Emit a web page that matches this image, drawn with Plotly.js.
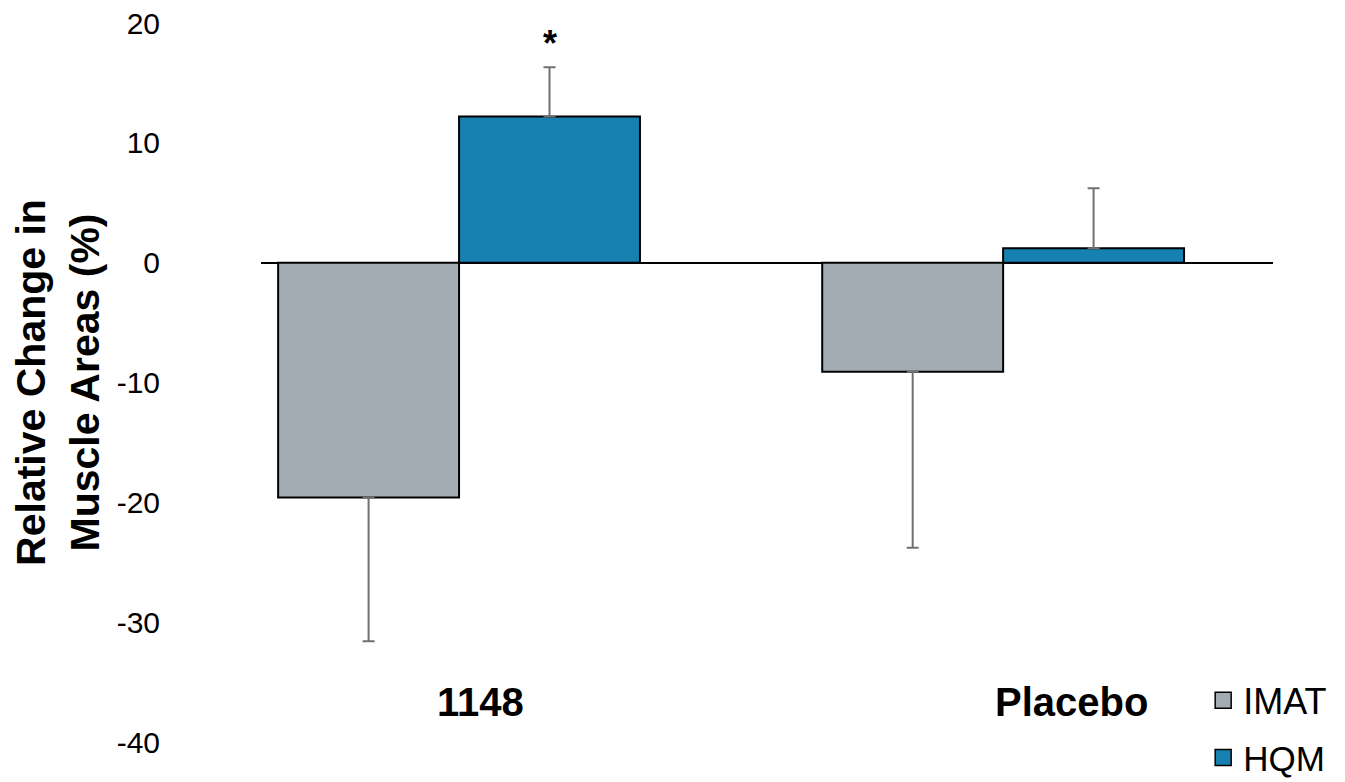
<!DOCTYPE html>
<html><head><meta charset="utf-8">
<script src="https://cdn.plot.ly/plotly-3.0.1.min.js"></script>
<style>html,body{margin:0;padding:0;background:#fff}</style>
</head><body>
<div id="chart" style="width:1345px;height:782px"></div>
<script>
const categories = ['1148', 'Placebo'];
const seriesNames = ['IMAT', 'HQM'];
const imat = [-19.6, -9.1];
const imatErr = [12.0, 14.7];
const hqm = [12.2, 1.2];
const hqmErr = [4.1, 5.0];
const yTicks = [20, 10, 0, -10, -20, -30, -40];
const significance = ['*', ''];

const grey = '#A2ACB2';
const blue = '#1681B0';
const FONT = 'Liberation Sans, Arial, sans-serif';
const bargap = 0.335;

const traces = [
  {type: 'bar', x: categories, y: imat, name: seriesNames[0], showlegend: false,
   marker: {color: grey, line: {color: '#000', width: 2}},
   error_y: {type: 'data', symmetric: false, array: imat.map(() => 0), arrayminus: imatErr,
             color: '#707070', thickness: 2, width: 6}},
  {type: 'bar', x: categories, y: hqm, name: seriesNames[1], showlegend: false,
   marker: {color: blue, line: {color: '#000', width: 2}},
   error_y: {type: 'data', symmetric: false, array: hqmErr, arrayminus: hqm.map(() => 0),
             color: '#707070', thickness: 2, width: 6}},
  {type: 'scatter', mode: 'markers', x: [null], y: [null], name: seriesNames[0], legend: 'legend',
   marker: {symbol: 'square', size: 16, color: grey, line: {color: '#000', width: 1.5}}},
  {type: 'scatter', mode: 'markers', x: [null], y: [null], name: seriesNames[1], legend: 'legend2',
   marker: {symbol: 'square', size: 16, color: blue, line: {color: '#000', width: 1.5}}}
];

const annotations = categories.map((c, i) => ({
  x: i, xref: 'x', y: 0.0556, yref: 'paper', text: '<b>' + c + '</b>', showarrow: false,
  xanchor: 'center', yanchor: 'middle', xshift: [21, 68][i],
  font: {family: FONT, size: 40, color: '#000'}
}));
significance.forEach((s, i) => {
  if (!s) return;
  annotations.push({
    x: i + (1 - bargap) / 4, xref: 'x', y: hqm[i] + hqmErr[i], yref: 'y', text: '<b>' + s + '</b>',
    showarrow: false, xanchor: 'center', yanchor: 'bottom', yshift: 1,
    font: {family: FONT, size: 36, color: '#000'}
  });
});

const layout = {
  width: 1345, height: 782,
  margin: {l: 261, r: 72, t: 23, b: 40, autoexpand: false},
  paper_bgcolor: '#fff', plot_bgcolor: '#fff',
  font: {family: FONT, color: '#000'},
  barmode: 'group', bargap: bargap, bargroupgap: 0,
  xaxis: {type: 'category', range: [-0.364, 1.496], showticklabels: false, showline: false,
          showgrid: false, zeroline: false, ticks: ''},
  yaxis: {range: [-40, 20], tickvals: yTicks, ticktext: yTicks.map(String), showgrid: false,
          zeroline: true, zerolinecolor: '#000', zerolinewidth: 2, showline: false, ticks: '',
          automargin: false,
          ticklabelstandoff: 100, tickfont: {family: FONT, size: 30, color: '#000'},
          title: {text: '<b>Relative Change in<br>Muscle Areas (%)</b>', standoff: 4,
                  font: {family: FONT, size: 41, color: '#000'}}},
  legend: {x: 0.931, y: 0.058, xanchor: 'left', yanchor: 'middle', bgcolor: 'rgba(0,0,0,0)',
           font: {family: FONT, size: 36, color: '#000'}},
  legend2: {x: 0.931, y: -0.022, xanchor: 'left', yanchor: 'middle', bgcolor: 'rgba(0,0,0,0)',
           font: {family: FONT, size: 35, color: '#000'}},
  annotations: annotations,
  showlegend: true
};

Plotly.newPlot('chart', traces, layout, {displayModeBar: false, staticPlot: true});
</script>
</body></html>
